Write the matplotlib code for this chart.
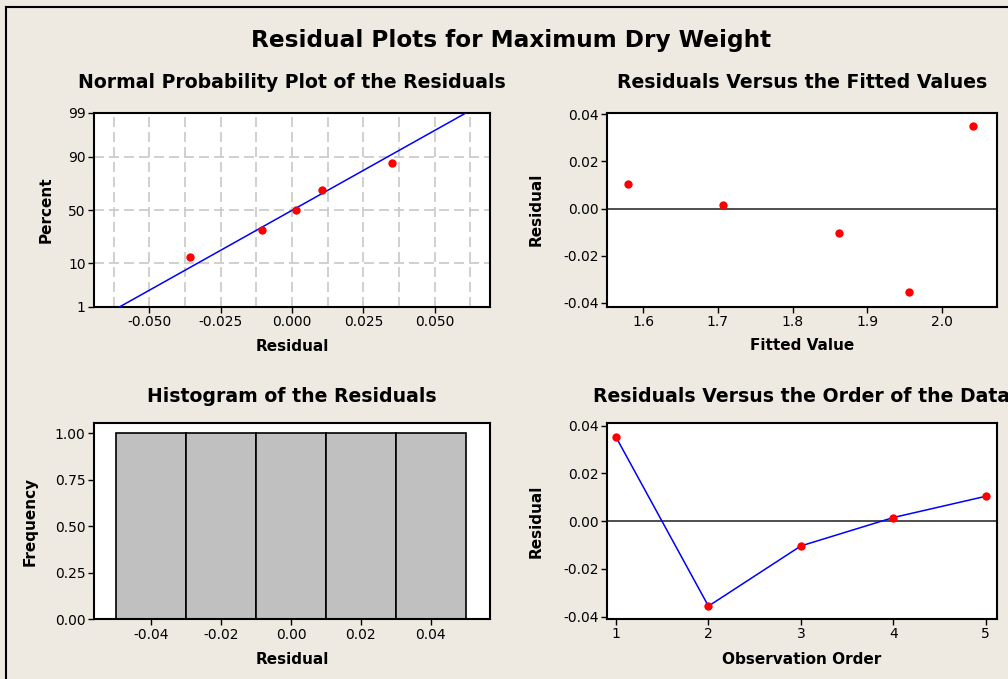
from statistics import NormalDist
import numpy as np
import matplotlib
matplotlib.use('Agg')
import matplotlib.pyplot as plt
from matplotlib.lines import Line2D

# residuals in observation order, and their fitted values
residuals = [0.0352, -0.0356, -0.0104, 0.0015, 0.0104]
fitted = [2.042, 1.956, 1.862, 1.707, 1.580]
order = [1, 2, 3, 4, 5]
hist_edges = [-0.05, -0.03, -0.01, 0.01, 0.03, 0.05]
prob_ticks = [1, 10, 50, 90, 99]

bg = '#EEEAE1'
plt.rcParams['font.family'] = 'DejaVu Sans'
plt.rcParams['axes.unicode_minus'] = False
plt.rcParams['xtick.labelsize'] = 10
plt.rcParams['ytick.labelsize'] = 10
plt.rcParams['axes.linewidth'] = 1.5

fig = plt.figure(figsize=(10.08, 6.79), dpi=100, facecolor=bg)
nd = NormalDist()

# frame border
fig.add_artist(Line2D([6/1008, 6/1008], [0, 1-7/679], color='black', lw=1.5))
fig.add_artist(Line2D([6/1008, 1], [1-7/679, 1-7/679], color='black', lw=1.5))

fig.text(511/1008, 1-40/679, 'Residual Plots for Maximum Dry Weight',
         ha='center', va='center', fontsize=16.7, fontweight='bold')

def style(ax):
    ax.tick_params(direction='out', length=4, width=1, colors='black', pad=2)

def sub_title(ax, txt, ypx):
    fig.text(ax.get_position().x0 + ax.get_position().width/2, 1-ypx/679, txt,
             ha='center', va='center', fontsize=13.6, fontweight='bold')

# --- normal probability plot
ax1 = fig.add_axes([94/1008, 1-307/679, 396/1008, 194/679])
style(ax1)
r = np.sort(residuals)
n = len(r)
pct = [(i + 1 - 0.3) / (n + 0.4) for i in range(n)]
z = [nd.inv_cdf(p) for p in pct]
mu = np.mean(residuals)
sd = np.std(residuals, ddof=1)
zl = np.array([nd.inv_cdf(0.01), nd.inv_cdf(0.99)])
ax1.plot(mu + sd * zl, zl, color='blue', lw=1.1, zorder=3)
ax1.plot(r, z, 'o', color='red', ms=6, mec='none', zorder=4)
ax1.set_xlim(-0.0694, 0.0694)
ax1.set_ylim(zl[0], zl[1])
ax1.set_xticks([-0.05, -0.025, 0, 0.025, 0.05])
ax1.set_xticklabels(['-0.050', '-0.025', '0.000', '0.025', '0.050'])
ax1.set_xticks([-0.0625, -0.0375, -0.0125, 0.0125, 0.0375, 0.0625], minor=True)
ax1.tick_params(axis='x', which='minor', length=0)
ax1.set_yticks([nd.inv_cdf(p/100) for p in prob_ticks])
ax1.set_yticklabels([str(p) for p in prob_ticks])
ax1.grid(True, axis='x', which='both', color='#C8C8C8', ls=(0, (6, 3)), lw=1.2)
ax1.grid(True, axis='y', which='major', color='#C8C8C8', ls=(0, (6, 3)), lw=1.2)
ax1.set_axisbelow(True)
ax1.set_xlabel('Residual', fontsize=11, fontweight='bold', va='center')
ax1.xaxis.set_label_coords(0.5, -(347-307)/194)
ax1.set_ylabel('Percent', fontsize=11, fontweight='bold', va='center')
ax1.yaxis.set_label_coords(-(94-46)/396, 0.5)
sub_title(ax1, 'Normal Probability Plot of the Residuals', 83)

# --- residuals vs fitted
ax2 = fig.add_axes([607/1008, 1-306.7/679, 390/1008, 194/679])
style(ax2)
ax2.axhline(0, color='#404040', lw=1.3, zorder=2)
ax2.plot(fitted, residuals, 'o', color='red', ms=6, mec='none', zorder=4)
ax2.set_xlim(1.5513, 2.0741)
ax2.set_ylim(-0.0417, 0.0407)
ax2.set_xticks([1.6, 1.7, 1.8, 1.9, 2.0])
ax2.set_yticks([-0.04, -0.02, 0, 0.02, 0.04])
ax2.set_yticklabels(['-0.04', '-0.02', '0.00', '0.02', '0.04'])
ax2.set_xlabel('Fitted Value', fontsize=11, fontweight='bold', va='center')
ax2.xaxis.set_label_coords(0.5, -(346-306.7)/194)
ax2.set_ylabel('Residual', fontsize=11, fontweight='bold', va='center')
ax2.yaxis.set_label_coords(-(607-536)/390, 0.5)
sub_title(ax2, 'Residuals Versus the Fitted Values', 83)

# --- histogram
ax3 = fig.add_axes([94/1008, 1-619.3/679, 396/1008, 196.6/679])
style(ax3)
ax3.hist(residuals, bins=hist_edges, color='#C0C0C0', edgecolor='black', lw=1.2)
ax3.set_xlim(-0.0564, 0.057)
ax3.set_ylim(0, 1.057)
ax3.set_xticks([-0.04, -0.02, 0, 0.02, 0.04])
ax3.set_xticklabels(['-0.04', '-0.02', '0.00', '0.02', '0.04'])
ax3.set_yticks([0, 0.25, 0.5, 0.75, 1.0])
ax3.set_yticklabels(['0.00', '0.25', '0.50', '0.75', '1.00'])
ax3.set_xlabel('Residual', fontsize=11, fontweight='bold', va='center')
ax3.xaxis.set_label_coords(0.5, -(660-619.3)/196.6)
ax3.set_ylabel('Frequency', fontsize=11, fontweight='bold', va='center')
ax3.yaxis.set_label_coords(-(94-30)/396, 0.5)
sub_title(ax3, 'Histogram of the Residuals', 396)

# --- residuals vs order
ax4 = fig.add_axes([607/1008, 1-619/679, 390/1008, 196/679])
style(ax4)
ax4.axhline(0, color='#404040', lw=1.3, zorder=2)
ax4.plot(order, residuals, '-', color='blue', lw=1.1, zorder=3)
ax4.plot(order, residuals, 'o', color='red', ms=6, mec='none', zorder=4)
ax4.set_xlim(0.9026, 5.122)
ax4.set_ylim(-0.041, 0.0411)
ax4.set_xticks(order)
ax4.set_yticks([-0.04, -0.02, 0, 0.02, 0.04])
ax4.set_yticklabels(['-0.04', '-0.02', '0.00', '0.02', '0.04'])
ax4.set_xlabel('Observation Order', fontsize=11, fontweight='bold', va='center')
ax4.xaxis.set_label_coords(0.5, -(660-619)/196)
ax4.set_ylabel('Residual', fontsize=11, fontweight='bold', va='center')
ax4.yaxis.set_label_coords(-(607-536)/390, 0.5)
# this title runs past the right edge in the reference as well
sub_title(ax4, 'Residuals Versus the Order of the Data', 396)

fig.savefig('out.png', dpi=100, facecolor=bg)
